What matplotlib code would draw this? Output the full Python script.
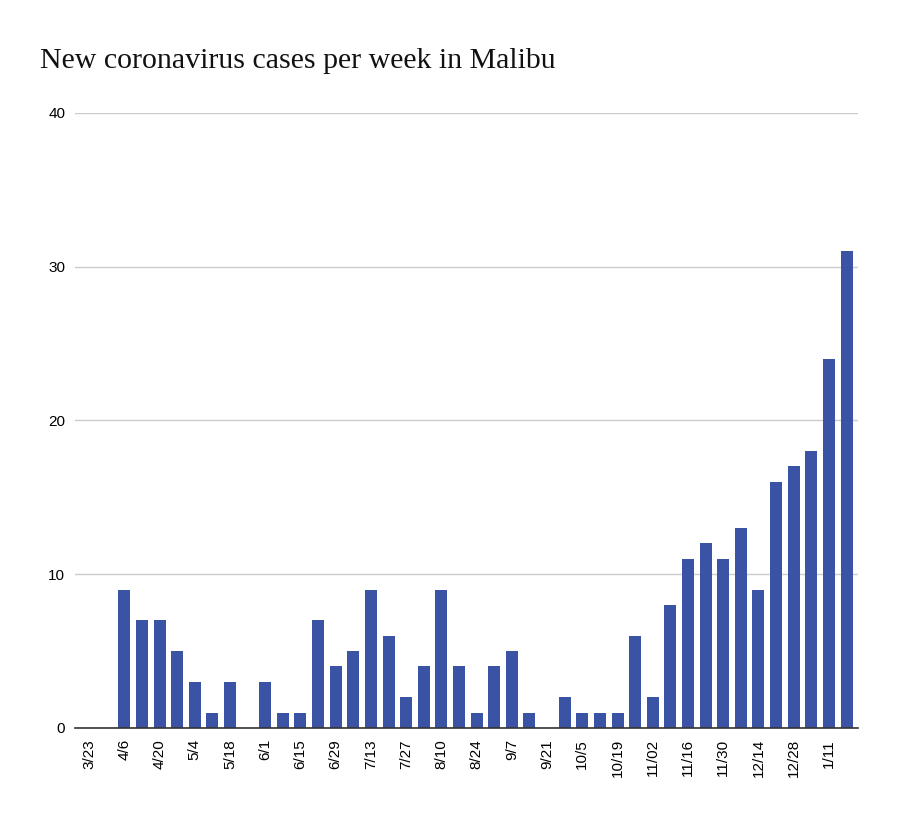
import matplotlib
matplotlib.use('Agg')
import matplotlib.pyplot as plt
import numpy as np

# weekly data, weeks starting 3/23
weeks = ['3/23', '3/30', '4/6', '4/13', '4/20', '4/27', '5/4', '5/11', '5/18', '5/25',
         '6/1', '6/8', '6/15', '6/22', '6/29', '7/6', '7/13', '7/20', '7/27', '8/3',
         '8/10', '8/17', '8/24', '8/31', '9/7', '9/14', '9/21', '9/28', '10/5', '10/12',
         '10/19', '10/26', '11/02', '11/9', '11/16', '11/23', '11/30', '12/7', '12/14', '12/21',
         '12/28', '1/4', '1/11', '1/18']
cases = [0, 0, 9, 7, 7, 5, 3, 1, 3, 0,
         3, 1, 1, 7, 4, 5, 9, 6, 2, 4,
         9, 4, 1, 4, 5, 1, 0, 2, 1, 1,
         1, 6, 2, 8, 11, 12, 11, 13, 9, 16,
         17, 18, 24, 31]
y_ticks = [0, 10, 20, 30, 40]

bar_color = '#3a53a4'

fig = plt.figure(figsize=(9, 8.17), dpi=100)
ax = fig.add_axes([0.0833, 0.109, 0.870, 0.753])

x = np.arange(len(weeks))
ax.bar(x, cases, width=0.68, color=bar_color, zorder=3)

ax.set_xlim(-0.8, len(weeks) - 0.35)
ax.set_ylim(0, 40)
ax.set_yticks(y_ticks)
ax.set_yticklabels([str(v) for v in y_ticks], fontsize=11, family='Liberation Sans')
ax.set_xticks(x[::2])
ax.set_xticklabels(weeks[::2], rotation=90, fontsize=11, family='Liberation Sans')

ax.yaxis.grid(True, color='#cccccc', linewidth=1, zorder=0)
ax.tick_params(axis='both', length=0)
ax.tick_params(axis='x', pad=8)
ax.tick_params(axis='y', pad=7)
for side in ['top', 'right', 'left']:
    ax.spines[side].set_visible(False)
ax.spines['bottom'].set_color('#333333')
ax.spines['bottom'].set_linewidth(1.2)
ax.spines['bottom'].set_zorder(4)

fig.text(0.044, 0.925, 'New coronavirus cases per week in Malibu',
         fontsize=21.5, family='Liberation Serif', ha='left', va='center', color='#111111')

fig.savefig('out.png', dpi=100)
